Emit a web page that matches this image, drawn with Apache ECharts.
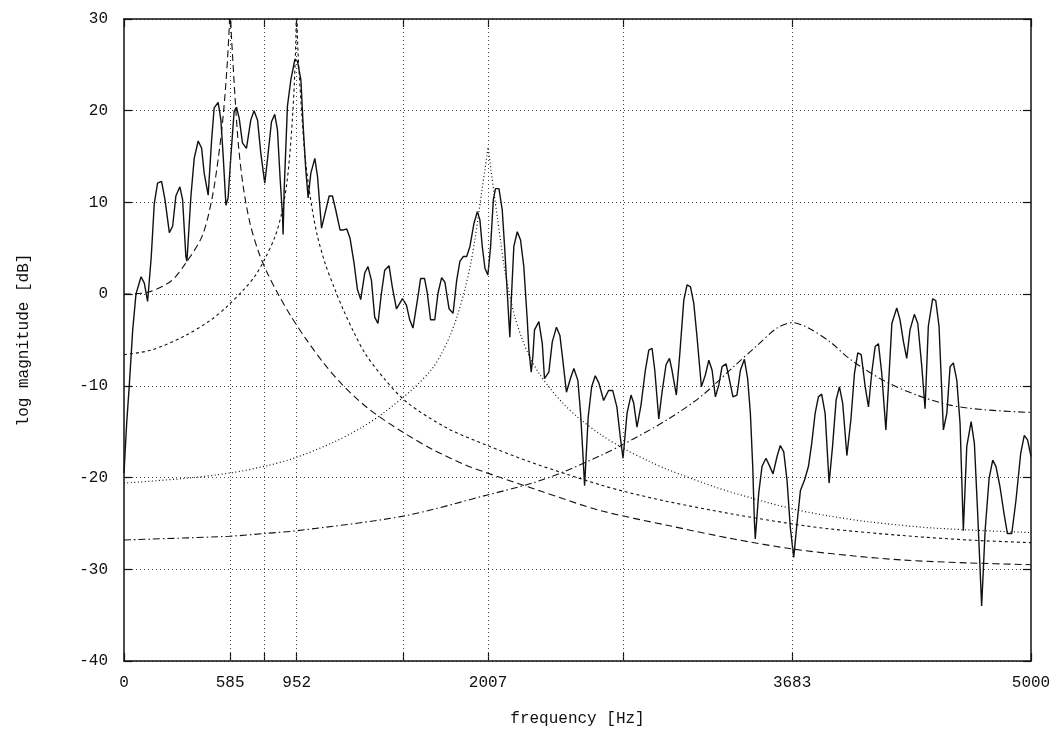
<!DOCTYPE html>
<html>
<head>
<meta charset="utf-8">
<title>log magnitude spectrum</title>
<script src="https://cdn.jsdelivr.net/npm/echarts@6/dist/echarts.min.js"></script>
<style>
html, body { margin: 0; padding: 0; background: #fff; }
#chart { width: 1057px; height: 736px; }
</style>
</head>
<body>
<div id="chart"></div>
<script>
// x axis: labelled ticks and all tick / grid positions (Hz)
const xLabelTicks = [0, 585, 952, 2007, 3683, 5000];
const xAllTicks = [0, 585, 775, 952, 1538, 2007, 2752, 3683, 5000];
const xGridLines = [585, 775, 952, 1538, 2007, 2752, 3683];

// measured spectrum [Hz, dB]
const measured = [
  [0,-19.5],[15,-14],[29,-10],[48,-3.9],[66,0],[94,1.9],[112,1.2],[130,-0.8],[150,4],[167,9.9],
  [185,12.1],[207,12.3],[226,10.3],[250,6.7],[268,7.4],[286,10.7],[308,11.7],[323,10.3],[341,4.1],[347,3.6],
  [369,10.7],[387,14.8],[409,16.7],[428,15.9],[442,13.2],[464,10.8],[483,16.8],[497,20.3],[519,20.9],[534,19],
  [547,15],[562,9.7],[574,10.5],[589,15],[607,19.9],[620,20.4],[635,19.2],[653,16.5],[675,15.9],[699,19],
  [717,20],[736,19],[754,15.4],[776,12.1],[791,14.7],[813,18.8],[831,19.6],[846,17.9],[861,12.5],[874,8.5],
  [877,6.5],[883,11.4],[901,20.5],[920,23.4],[942,25.6],[956,25.4],[975,23.4],[989,17.9],[1002,13.6],[1015,10.5],
  [1030,13.2],[1052,14.8],[1067,12.8],[1089,7.2],[1107,8.7],[1131,10.7],[1149,10.7],[1167,9.2],[1191,7],[1210,7],
  [1228,7.1],[1246,6.1],[1268,3.4],[1287,0.5],[1305,-0.6],[1327,2.3],[1345,3.0],[1364,1.5],[1382,-2.5],[1400,-3.2],
  [1419,0.1],[1437,2.6],[1461,3.1],[1479,0.8],[1502,-1.6],[1535,-0.5],[1557,-1.2],[1575,-2.8],[1593,-3.7],[1617,-0.7],
  [1635,1.7],[1657,1.7],[1672,0.1],[1690,-2.8],[1713,-2.8],[1731,0.1],[1751,1.8],[1769,1.3],[1792,-1.6],[1814,-2.1],
  [1834,1.5],[1852,3.6],[1871,4.1],[1889,4.1],[1907,5.2],[1929,7.7],[1948,9.0],[1962,8.1],[1975,5.2],[1990,2.8],
  [2006,2.1],[2021,5.2],[2036,10.3],[2048,11.5],[2067,11.5],[2085,9.2],[2098,5.2],[2113,0.1],[2127,-4.7],[2135,-0.65],
  [2149,5.2],[2168,6.8],[2186,5.9],[2204,3.0],[2223,-2.8],[2232,-6.1],[2245,-8.5],[2254,-6.8],[2263,-3.9],[2287,-3.0],
  [2306,-5.4],[2318,-9.2],[2342,-8.5],[2361,-5.2],[2384,-3.6],[2403,-4.5],[2419,-7.2],[2439,-10.7],[2461,-9.2],[2480,-8.1],
  [2502,-9.4],[2517,-13],[2530,-17.5],[2539,-20.9],[2559,-13.4],[2578,-10.1],[2598,-8.9],[2618,-9.7],[2644,-11.6],[2671,-10.5],
  [2694,-10.5],[2717,-12.3],[2736,-15.6],[2751,-17.9],[2773,-13.0],[2795,-11.0],[2810,-11.9],[2828,-14.5],[2850,-12.1],[2874,-8.3],
  [2893,-6.1],[2911,-5.9],[2926,-8.3],[2948,-13.6],[2966,-10.7],[2988,-7.7],[3007,-7.0],[3021,-8.3],[3045,-11.0],[3064,-6.5],
  [3086,-0.65],[3104,1.0],[3123,0.8],[3141,-1.0],[3159,-4.7],[3183,-10.1],[3205,-8.8],[3224,-7.2],[3242,-8.3],[3260,-11.2],
  [3279,-9.9],[3297,-7.9],[3319,-7.6],[3334,-9.0],[3357,-11.2],[3379,-11.0],[3398,-8.3],[3420,-7.1],[3438,-9.2],[3453,-13.0],
  [3466,-18.8],[3475,-24.7],[3480,-26.7],[3499,-21.7],[3517,-18.8],[3539,-17.9],[3558,-18.7],[3578,-19.6],[3600,-17.7],[3618,-16.5],
  [3637,-17.2],[3655,-20.3],[3673,-25.4],[3692,-28.7],[3710,-25.0],[3729,-21.4],[3751,-20.3],[3773,-18.8],[3791,-16.3],[3810,-13.0],
  [3828,-11.2],[3846,-10.9],[3865,-13.0],[3887,-20.6],[3906,-16.6],[3926,-11.5],[3944,-10.1],[3962,-11.9],[3985,-17.6],[4007,-13.7],
  [4027,-8.6],[4045,-6.4],[4064,-6.6],[4086,-10.1],[4104,-12.3],[4122,-8.6],[4141,-5.7],[4159,-5.4],[4177,-8.6],[4200,-14.8],
  [4214,-10.1],[4233,-3.2],[4260,-1.5],[4278,-2.8],[4297,-5.2],[4315,-7.0],[4333,-3.9],[4357,-2.2],[4376,-3.2],[4398,-7.9],
  [4416,-12.5],[4434,-3.5],[4458,-0.5],[4475,-0.7],[4493,-3.5],[4508,-10.5],[4517,-14.8],[4536,-13.0],[4554,-7.9],[4572,-7.5],
  [4591,-9.4],[4609,-14.1],[4627,-25.8],[4646,-16.6],[4670,-13.9],[4688,-16.3],[4706,-23.9],[4728,-34.0],[4747,-25.8],[4769,-20.1],
  [4789,-18.1],[4807,-18.8],[4829,-21.0],[4851,-23.9],[4870,-26.1],[4894,-26.1],[4917,-22.5],[4943,-17.4],[4963,-15.4],[4981,-15.9],
  [5000,-17.7]
];

// resonance at 585 Hz (long dashes)
const res585 = [
  [0,0],[130,0.2],[258,1.4],[341,3.4],[430,6.3],[484,10.3],[521,15],[548,19.7],[567,24.5],[580,29],[585,32],
  [590,29],[600,25.5],[612,21.5],[632,16],[659,11.5],[695,7.7],[740,4.7],[790,2.3],[850,0],[920,-2.4],
  [1000,-4.8],[1100,-7.5],[1200,-9.8],[1342,-12.4],[1525,-14.9],[1708,-17.0],[1892,-18.7],[2076,-20.0],[2300,-21.5],
  [2627,-23.6],[2994,-25.2],[3361,-26.7],[3690,-27.8],[4000,-28.5],[4300,-29.0],[4650,-29.3],[5000,-29.5]
];

// resonance at 952 Hz (short dashes)
const res952 = [
  [0,-6.6],[150,-6.1],[330,-4.6],[480,-2.8],[570,-1.3],[660,0.5],[723,2.0],[778,3.9],[833,6.3],[869,8.8],
  [897,12.0],[915,15.5],[928,19.0],[939,23.0],[947,27.5],[952,32],[957,27.5],[966,24.0],[980,19.7],[998,15],
  [1026,10.7],[1062,6.7],[1108,3.4],[1163,0.5],[1209,-1.7],[1268,-4.2],[1330,-6.5],[1434,-9.2],[1560,-11.8],[1780,-14.6],
  [2003,-16.5],[2225,-18.2],[2450,-19.7],[2627,-20.8],[2755,-21.5],[2994,-22.6],[3361,-24.0],[3700,-25.1],[3892,-25.6],
  [4278,-26.3],[4650,-26.8],[5000,-27.1]
];

// resonance at 2007 Hz (dots)
const res2007 = [
  [0,-20.6],[330,-20.1],[585,-19.5],[790,-18.7],[950,-17.8],[1160,-16.1],[1305,-14.6],[1434,-12.9],[1600,-10.2],[1700,-8.1],
  [1750,-6.5],[1800,-4.4],[1840,-2.2],[1880,0.6],[1912,3.4],[1935,6.0],[1955,8.8],[1975,11.6],[1990,13.6],[2000,15.0],
  [2007,16.0],[2014,15.0],[2024,13.4],[2040,11.0],[2058,8.4],[2076,5.8],[2096,3.0],[2125,0.0],[2155,-2.5],[2195,-4.9],
  [2235,-6.8],[2290,-8.7],[2350,-10.3],[2420,-11.9],[2500,-13.4],[2627,-15.3],[2751,-16.8],[2892,-18.2],[2994,-19.1],
  [3269,-21.1],[3544,-22.7],[3728,-23.6],[3892,-24.2],[4095,-24.8],[4462,-25.5],[5000,-26.0]
];

// resonance at 3683 Hz (dash-dot)
const res3683 = [
  [0,-26.8],[580,-26.4],[770,-26.1],[950,-25.8],[1540,-24.2],[2003,-21.9],[2250,-20.6],[2420,-19.4],[2627,-17.6],[2751,-16.4],
  [2994,-13.7],[3178,-11.2],[3361,-7.9],[3490,-5.6],[3600,-3.7],[3683,-3.1],[3765,-3.6],[3892,-5.2],[4003,-7.1],[4186,-9.4],
  [4370,-11.0],[4554,-12.1],[4737,-12.6],[5000,-12.9]
];

const font = "'Liberation Mono', 'DejaVu Sans Mono', monospace";
const ink = '#111';

var chartDom = document.getElementById('chart');
var myChart = echarts.init(chartDom, null, { renderer: 'canvas' });

function curve(data, dash, width) {
  return {
    type: 'line',
    data: data,
    showSymbol: false,
    smooth: 0.3,
    clip: true,
    lineStyle: { color: ink, width: width, type: dash },
    silent: true,
    z: 3
  };
}

var option = {
  animation: false,
  backgroundColor: '#fff',
  grid: { left: 124, right: 26, top: 19, bottom: 75 },
  xAxis: [
    {
      type: 'value',
      min: 0,
      max: 5000,
      position: 'bottom',
      name: 'frequency [Hz]',
      nameLocation: 'middle',
      nameGap: 50,
      nameTextStyle: { fontFamily: font, fontSize: 16, color: ink },
      axisLine: { show: true, onZero: false, lineStyle: { color: ink, width: 1.5 } },
      axisTick: { show: true, inside: true, length: 8, customValues: xAllTicks, lineStyle: { color: ink, width: 1.2 } },
      axisLabel: {
        customValues: xLabelTicks,
        formatter: v => String(v),
        fontFamily: font, fontSize: 16, color: ink, margin: 14
      },
      splitLine: { show: false }
    },
    {
      type: 'value',
      min: 0,
      max: 5000,
      position: 'top',
      axisLine: { show: true, onZero: false, lineStyle: { color: ink, width: 1.5 } },
      axisTick: { show: true, inside: true, length: 8, customValues: xAllTicks, lineStyle: { color: ink, width: 1.2 } },
      axisLabel: { show: false },
      splitLine: { show: false }
    }
  ],
  yAxis: [
    {
      type: 'value',
      min: -40,
      max: 30,
      interval: 10,
      position: 'left',
      name: 'log magnitude [dB]',
      nameLocation: 'middle',
      nameGap: 92,
      nameRotate: 90,
      nameTextStyle: { fontFamily: font, fontSize: 16, color: ink },
      axisLine: { show: true, onZero: false, lineStyle: { color: ink, width: 1.5 } },
      axisTick: { show: true, inside: true, length: 8, lineStyle: { color: ink, width: 1.2 } },
      axisLabel: { fontFamily: font, fontSize: 16, color: ink, margin: 16 },
      splitLine: { show: true, lineStyle: { color: '#444', width: 1, type: [1, 3] } }
    },
    {
      type: 'value',
      min: -40,
      max: 30,
      interval: 10,
      position: 'right',
      axisLine: { show: true, onZero: false, lineStyle: { color: ink, width: 1.5 } },
      axisTick: { show: true, inside: true, length: 8, lineStyle: { color: ink, width: 1.2 } },
      axisLabel: { show: false },
      splitLine: { show: false }
    }
  ],
  series: [
    {
      type: 'line',
      data: measured,
      showSymbol: false,
      clip: true,
      silent: true,
      lineStyle: { color: ink, width: 1.4 },
      z: 4,
      markLine: {
        silent: true,
        symbol: 'none',
        label: { show: false },
        lineStyle: { color: '#444', width: 1, type: [1, 3] },
        data: xGridLines.map(v => ({ xAxis: v }))
      }
    },
    curve(res585, [7, 4], 1.1),
    curve(res952, [3, 3], 1.1),
    curve(res2007, [1, 2.5], 1.2),
    curve(res3683, [7, 3, 1.5, 3], 1.1)
  ]
};

option && myChart.setOption(option);
</script>
</body>
</html>
